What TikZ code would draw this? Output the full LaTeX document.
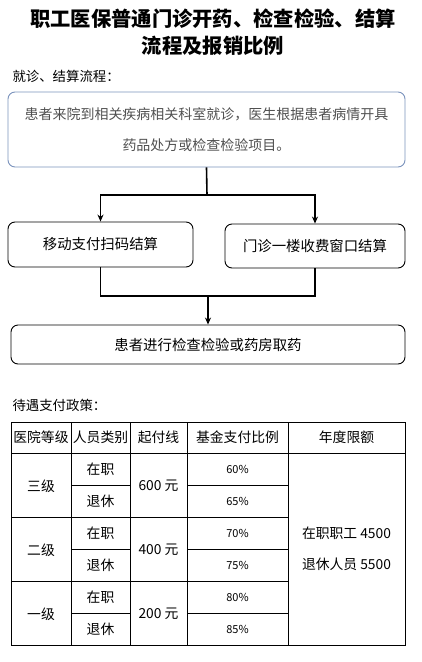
\documentclass[tikz,border=0pt]{standalone}
\usepackage{fontspec}
\setmainfont{Noto Sans CJK SC}
\usepackage{xcolor}
\usepackage{tikz}
\usetikzlibrary{arrows.meta}

\definecolor{boxblue}{RGB}{122,146,188}
\definecolor{notegray}{RGB}{80,80,80}

\begin{document}
\begin{tikzpicture}[x=1pt, y=-1pt,
  arrow/.style={-{Stealth[length=7pt, width=6pt]}, line width=1.6pt},
  link/.style={line width=1.6pt},
  stepbox/.style={draw, rounded corners=7pt, line width=0.9pt, inner sep=0pt, align=center, font=\fontsize{14.4}{18}\selectfont},
  lbl/.style={anchor=west, font=\fontsize{13.4}{16}\selectfont},
  cell/.style={font=\fontsize{13.8}{16}\selectfont},
  pct/.style={font=\fontsize{11}{12}\selectfont},
  grid/.style={line width=0.9pt}
]
  \useasboundingbox (0,0) rectangle (421,662);

  % Title
  \node[align=center, font=\fontsize{20.3}{27.5}\selectfont\bfseries] (title) at (213,32)
    {职工医保普通门诊开药、检查检验、结算\\流程及报销比例};

  % Flow chart
  \node[lbl] (flowlbl) at (9,76) {就诊、结算流程：};

  \node[stepbox, draw=boxblue, text=notegray, minimum width=397pt, minimum height=75pt,
        font=\fontsize{14}{31}\selectfont] (visit) at (206.5,129.5)
    {患者来院到相关疾病相关科室就诊，医生根据患者病情开具\\药品处方或检查检验项目。};

  \node[stepbox, minimum width=185pt, minimum height=45pt] (scan) at (100.5,244.5) {移动支付扫码结算};
  \node[stepbox, minimum width=180pt, minimum height=44pt] (window) at (315,246) {门诊一楼收费窗口结算};
  \node[stepbox, minimum width=394pt, minimum height=39pt] (fetch) at (208,344.5) {患者进行检查检验或药房取药};

  \coordinate (split) at (207,195);
  \coordinate (join) at (208,296);

  \draw[link] (visit.south) -- (split);
  \draw[arrow] (split) -| (scan.north);
  \draw[arrow] (split) -| (window.north);
  \draw[link] (scan.south) |- (join);
  \draw[link] (window.south) |- (join);
  \draw[arrow] (join) -- (fetch.north);

  % Policy table
  \node[lbl] (paylbl) at (9,405) {待遇支付政策：};

  \draw[grid] (11,422) rectangle (405,645);
  \draw[grid] (11,453) -- (405,453);
  \draw[grid] (11,517) -- (288,517);
  \draw[grid] (11,581) -- (288,581);
  \foreach \y in {485,549,613} {
    \draw[grid] (71,\y) -- (130,\y);
    \draw[grid] (187,\y) -- (288,\y);
  }
  \foreach \x in {71,130,187,288}
    \draw[grid] (\x,422) -- (\x,645);

  % header
  \node[cell] (h1) at (41,437.5) {医院等级};
  \node[cell] (h2) at (100.5,437.5) {人员类别};
  \node[cell] (h3) at (158.5,437.5) {起付线};
  \node[cell] (h4) at (237.5,437.5) {基金支付比例};
  \node[cell] (h5) at (346.5,437.5) {年度限额};

  % grade 3
  \node[cell] (g3) at (41,486) {三级};
  \node[cell] (g3a) at (100.5,469) {在职};
  \node[cell] (g3b) at (100.5,501) {退休};
  \node[cell] (g3c) at (158.5,486) {600 元};
  \node[pct] (g3d) at (237.5,469) {60\%};
  \node[pct] (g3e) at (237.5,501) {65\%};

  % grade 2
  \node[cell] (g2) at (41,550) {二级};
  \node[cell] (g2a) at (100.5,533) {在职};
  \node[cell] (g2b) at (100.5,565) {退休};
  \node[cell] (g2c) at (158.5,550) {400 元};
  \node[pct] (g2d) at (237.5,533) {70\%};
  \node[pct] (g2e) at (237.5,565) {75\%};

  % grade 1
  \node[cell] (g1) at (41,614) {一级};
  \node[cell] (g1a) at (100.5,597) {在职};
  \node[cell] (g1b) at (100.5,629) {退休};
  \node[cell] (g1c) at (158.5,614) {200 元};
  \node[pct] (g1d) at (237.5,597) {80\%};
  \node[pct] (g1e) at (237.5,629) {85\%};

  % annual limit
  \node[cell, align=left, font=\fontsize{13.8}{31}\selectfont] (limit) at (346.5,549)
    {在职职工 4500\\退休人员 5500};

\end{tikzpicture}
\end{document}
